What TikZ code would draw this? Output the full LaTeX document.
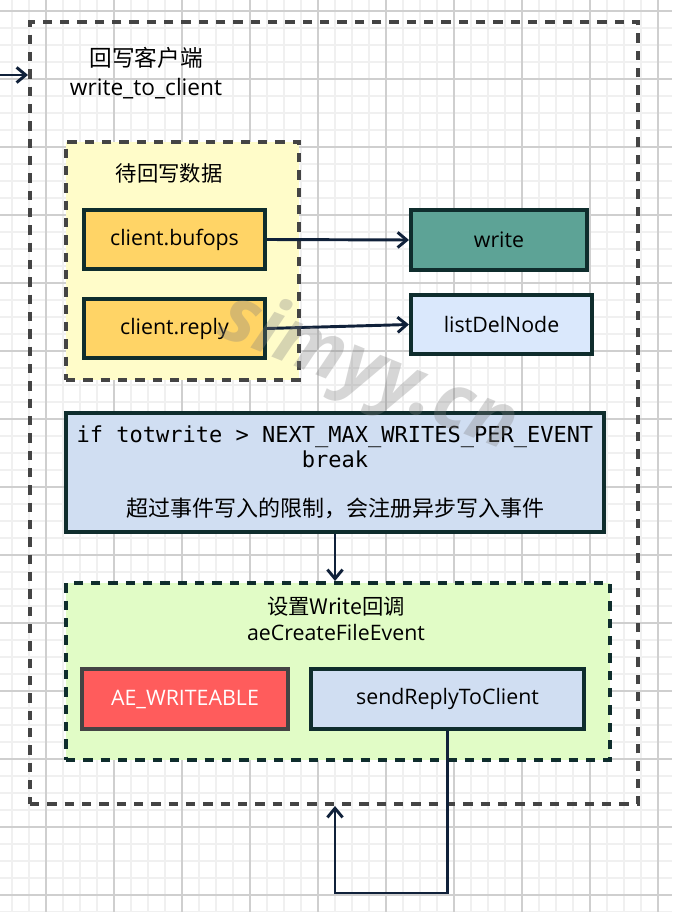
\documentclass[tikz,border=0pt]{standalone}
\usepackage{fontspec}
\setmainfont{Open Sans}
\setmonofont{DejaVu Sans Mono}
\newfontfamily\cjk{Noto Sans CJK SC}
\usepackage{tikz}
\usetikzlibrary{arrows.meta,positioning}
\definecolor{WrInk}{HTML}{10213A}
\definecolor{WrEdge}{HTML}{0F2D2D}
\definecolor{WrGray}{HTML}{444444}
\definecolor{WrGridMinor}{HTML}{F0F0F0}
\definecolor{WrGridMajor}{HTML}{CFCFCF}
\definecolor{WrPending}{HTML}{FFFCC9}
\definecolor{WrBuf}{HTML}{FFD466}
\definecolor{WrSys}{HTML}{5DA396}
\definecolor{WrList}{HTML}{DAE8FC}
\definecolor{WrLimit}{HTML}{D0DEF2}
\definecolor{WrEvent}{HTML}{E1FCC6}
\definecolor{WrFlag}{HTML}{FF5C5C}
\tikzset{
  groupbox/.style={draw=WrGray,line width=3pt,dash pattern=on 7pt off 6pt},
  eventbox/.style={groupbox,draw=WrEdge},
  callbox/.style={draw=WrEdge,line width=3pt,align=center,inner sep=0pt,font=\fontsize{16}{22}\selectfont},
  labeltext/.style={align=center,inner sep=0pt,font=\fontsize{16}{22}\selectfont},
  flowarrow/.style={-{Straight Barb[length=2.4mm,width=4mm]},line width=2.2pt,draw=WrInk},
  minorgrid/.style={draw=WrGridMinor,line width=1.5pt},
  majorgrid/.style={draw=WrGridMajor,line width=1pt}
}

\begin{document}
\begin{tikzpicture}[x=0.75pt,y=-0.75pt]
\useasboundingbox (0,0) rectangle (672,912);
\foreach \gx in {12,29,...,672} \draw[minorgrid] (\gx,0) -- (\gx,912);
\foreach \gy in {11,28,...,912} \draw[minorgrid] (0,\gy) -- (672,\gy);
\foreach \gx in {46,114,...,672} \draw[majorgrid] (\gx,0) -- (\gx,912);
\foreach \gy in {11,79,...,912} \draw[majorgrid] (0,\gy) -- (672,\gy);

\node[groupbox,minimum width=456pt,minimum height=586.5pt] (outer) at (334,413) {};
\node[labeltext,font=\fontsize{17}{22}\selectfont] (title) at (146,73) {{\cjk 回写客户端}\\write\_to\_client};

\node[groupbox,fill=WrPending,minimum width=174.75pt,minimum height=178.5pt] (pending) at (182.5,261) {};
\node[labeltext] (pendtitle) at (169,173) {\cjk 待回写数据};
\node[callbox,fill=WrBuf,minimum width=135.75pt,minimum height=44.25pt] (bufops) at (174.5,239.5) {client.bufops};
\node[callbox,fill=WrBuf,minimum width=135.75pt,minimum height=44.25pt,below=19.5pt of bufops] (reply) {client.reply};

\node[callbox,fill=WrSys,minimum width=132pt,minimum height=45pt] (write) at (499,240) {write};
\node[callbox,fill=WrList,minimum width=135.75pt,minimum height=44.25pt] (listdel) at (501.5,324.5) {listDelNode};
\draw[flowarrow] (bufops.east) -- (write.west);
\draw[flowarrow] (reply.east) -- (listdel.west);

\node[callbox,fill=WrLimit,minimum width=403.5pt,minimum height=89.25pt,font=\ttfamily\fontsize{16.5}{18.4}\selectfont] (limit) at (335,472.5)
  {if totwrite > NEXT\_MAX\_WRITES\_PER\_EVENT\\break\\[18.4pt]{\cjk 超过事件写入的限制，会注册异步写入事件}};

\node[eventbox,fill=WrEvent,minimum width=408pt,minimum height=132.75pt] (event) at (338,671.5) {};
\node[labeltext,font=\fontsize{16}{19.5}\selectfont] (eventtitle) at (336,619) {{\cjk 设置Write回调}\\aeCreateFileEvent};
\node[callbox,draw=WrGray,fill=WrFlag,text=white,minimum width=154.5pt,minimum height=45pt] (flag) at (185,699) {AE\_WRITEABLE};
\node[callbox,fill=WrLimit,minimum width=204.75pt,minimum height=45pt] (send) at (447.5,699) {sendReplyToClient};
\draw[flowarrow] (limit.south) -- (limit.south |- event.north);

\coordinate (entry) at (0,75);
\coordinate (loopturn) at (335,893);
\draw[flowarrow] (entry) -- (entry -| outer.west);
\draw[flowarrow] (send.south) |- (loopturn) -- (loopturn |- outer.south);

\node[rotate=-22,text=gray,opacity=.32,font=\fontsize{58}{58}\selectfont\bfseries\itshape] (mark) at (368,374) {simyy.cn};
\end{tikzpicture}
\end{document}
